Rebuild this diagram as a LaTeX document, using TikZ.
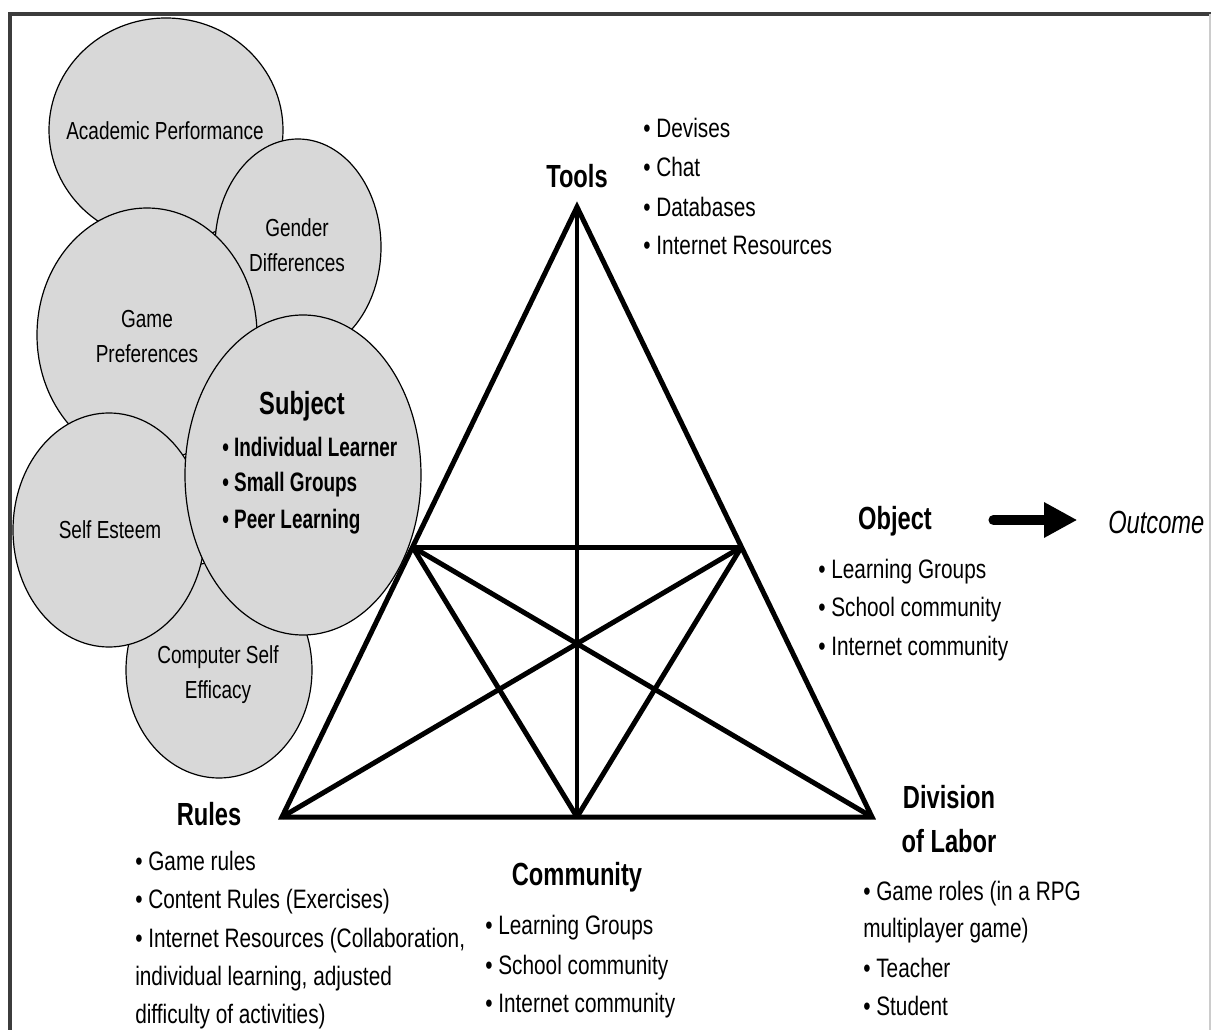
\documentclass[tikz,border=0pt]{standalone}
\usepackage{fontspec}
\setmainfont{Liberation Sans}
\newfontfamily\bubblefont[FakeStretch=0.77]{Liberation Sans}
\newfontfamily\narrowfont[FakeStretch=0.78]{Liberation Sans}
\newfontfamily\labelfont[FakeStretch=0.74]{Liberation Sans}
\newfontfamily\subjfont[FakeStretch=0.71]{Liberation Sans}
\usetikzlibrary{shapes.geometric,calc,arrows.meta}
\definecolor{bubblegray}{RGB}{216,216,216}
\definecolor{framegray}{RGB}{60,60,60}

\begin{document}
\begin{tikzpicture}[x=0.75pt,y=-0.75pt,
  bubble/.style 2 args={ellipse, draw=black, line width=0.9pt, fill=bubblegray,
    minimum width=#1*1.5pt, minimum height=#2*1.5pt, inner sep=0pt},
  bubbletext/.style={font=\bubblefont\fontsize{18.5}{22}\selectfont, anchor=base, inner sep=0pt},
  item/.style={font=\narrowfont\fontsize{20}{24}\selectfont, anchor=base west, inner sep=0pt},
  head/.style={font=\labelfont\bfseries\fontsize{24}{28}\selectfont, anchor=base, inner sep=0pt},
  subjitem/.style={font=\subjfont\bfseries\fontsize{20}{24}\selectfont, anchor=base west, inner sep=0pt},
  side/.style={line width=3.75pt, line join=miter},
  bar/.style={line width=3.75pt},
  bigarrow/.style={line width=7.5pt, line cap=round, -{Triangle[length=25pt,width=25pt]}}
]
\useasboundingbox (0,0) rectangle (1211,1030);
\fill[white] (0,0) rectangle (1211,1030);

% outer frame
\draw[line width=3pt, framegray] (10,1040) -- (10,14) -- (1215,14);
\draw[line width=0.8pt, black!20] (1210,14) -- (1210,1040);

% factor bubbles around the subject
\node[bubble={117}{112}] (acad) at (166,130) {};
\node[bubble={83}{108}] (gender) at (298,247) {};
\node[bubble={110}{127}] (game) at (147,335) {};
\node[bubble={93}{108}] (cse) at (219,670) {};
\node[bubble={96}{117}] (esteem) at (109,530) {};
\node[bubble={118}{160}] (subj) at (303,475) {};

\node[bubbletext] (acadT) at (165,140) {Academic Performance};
\node[bubbletext] (genderT1) at (297,237) {Gender};
\node[bubbletext] (genderT2) at (297,272) {Differences};
\node[bubbletext] (gameT1) at (147,328) {Game};
\node[bubbletext] (gameT2) at (147,363) {Preferences};
\node[bubbletext] (esteemT) at (110,539) {Self Esteem};
\node[bubbletext] (cseT1) at (218,663) {Computer Self};
\node[bubbletext] (cseT2) at (218,698) {Efficacy};

\node[head] (subjT) at (302,415) {Subject};
\node[subjitem] (subj1) at (222,457) {• Individual Learner};
\node[subjitem] (subj2) at (222,492) {• Small Groups};
\node[subjitem] (subj3) at (222,528) {• Peer Learning};

% activity triangle
\coordinate (top) at (577,207);
\coordinate (bl) at (282,817);
\coordinate (br) at (872,817);
\coordinate (bm) at (577,817);
\coordinate (ml) at ($(bl)!0.4426!(top)$);
\coordinate (mr) at ($(br)!0.4426!(top)$);

\draw[side] (top) -- (bl) -- (br) -- cycle;
\draw[bar] (ml) -- (mr);
\draw[bar] (bl) -- (mr);
\draw[bar] (br) -- (ml);
\draw[bar] (ml) -- (bm);
\draw[bar] (mr) -- (bm);
\draw[line width=3pt] (top) -- (bm);

% tools
\node[head] (tools) at (577,188) {Tools};
\node[item] (tools1) at (643,138) {• Devises};
\node[item] (tools2) at (643,177) {• Chat};
\node[item] (tools3) at (643,217) {• Databases};
\node[item] (tools4) at (643,255) {• Internet Resources};

% object and outcome
\node[head] (obj) at (895,530) {Object};
\node[font=\labelfont\itshape\fontsize{24}{28}\selectfont, anchor=base west, inner sep=0pt] (outc) at (1108,533) {Outcome};
\coordinate (arrowrow) at (0,520);
\draw[bigarrow, shorten <=46pt, shorten >=23pt] (obj.east |- arrowrow) -- (outc.west |- arrowrow);
\node[item] (obj1) at (818,578) {• Learning Groups};
\node[item] (obj2) at (818,616) {• School community};
\node[item] (obj3) at (818,655) {• Internet community};

% rules
\node[head] (rules) at (209,825) {Rules};
\node[item] (rules1) at (135,870) {• Game rules};
\node[item] (rules2) at (135,908) {• Content Rules (Exercises)};
\node[item] (rules3) at (135,947) {• Internet Resources (Collaboration,};
\node[item] (rules4) at (135,985) {individual learning, adjusted};
\node[item] (rules5) at (135,1023) {difficulty of activities)};

% community
\node[head] (comm) at (577,885) {Community};
\node[item] (comm1) at (485,934) {• Learning Groups};
\node[item] (comm2) at (485,974) {• School community};
\node[item] (comm3) at (485,1012) {• Internet community};

% division of labor
\node[head] (div1) at (949,808) {Division};
\node[head] (div2) at (949,852) {of Labor};
\node[item] (div3) at (863,900) {• Game roles (in a RPG};
\node[item] (div4) at (863,937) {multiplayer game)};
\node[item] (div5) at (863,977) {• Teacher};
\node[item] (div6) at (863,1015) {• Student};
\end{tikzpicture}
\end{document}
